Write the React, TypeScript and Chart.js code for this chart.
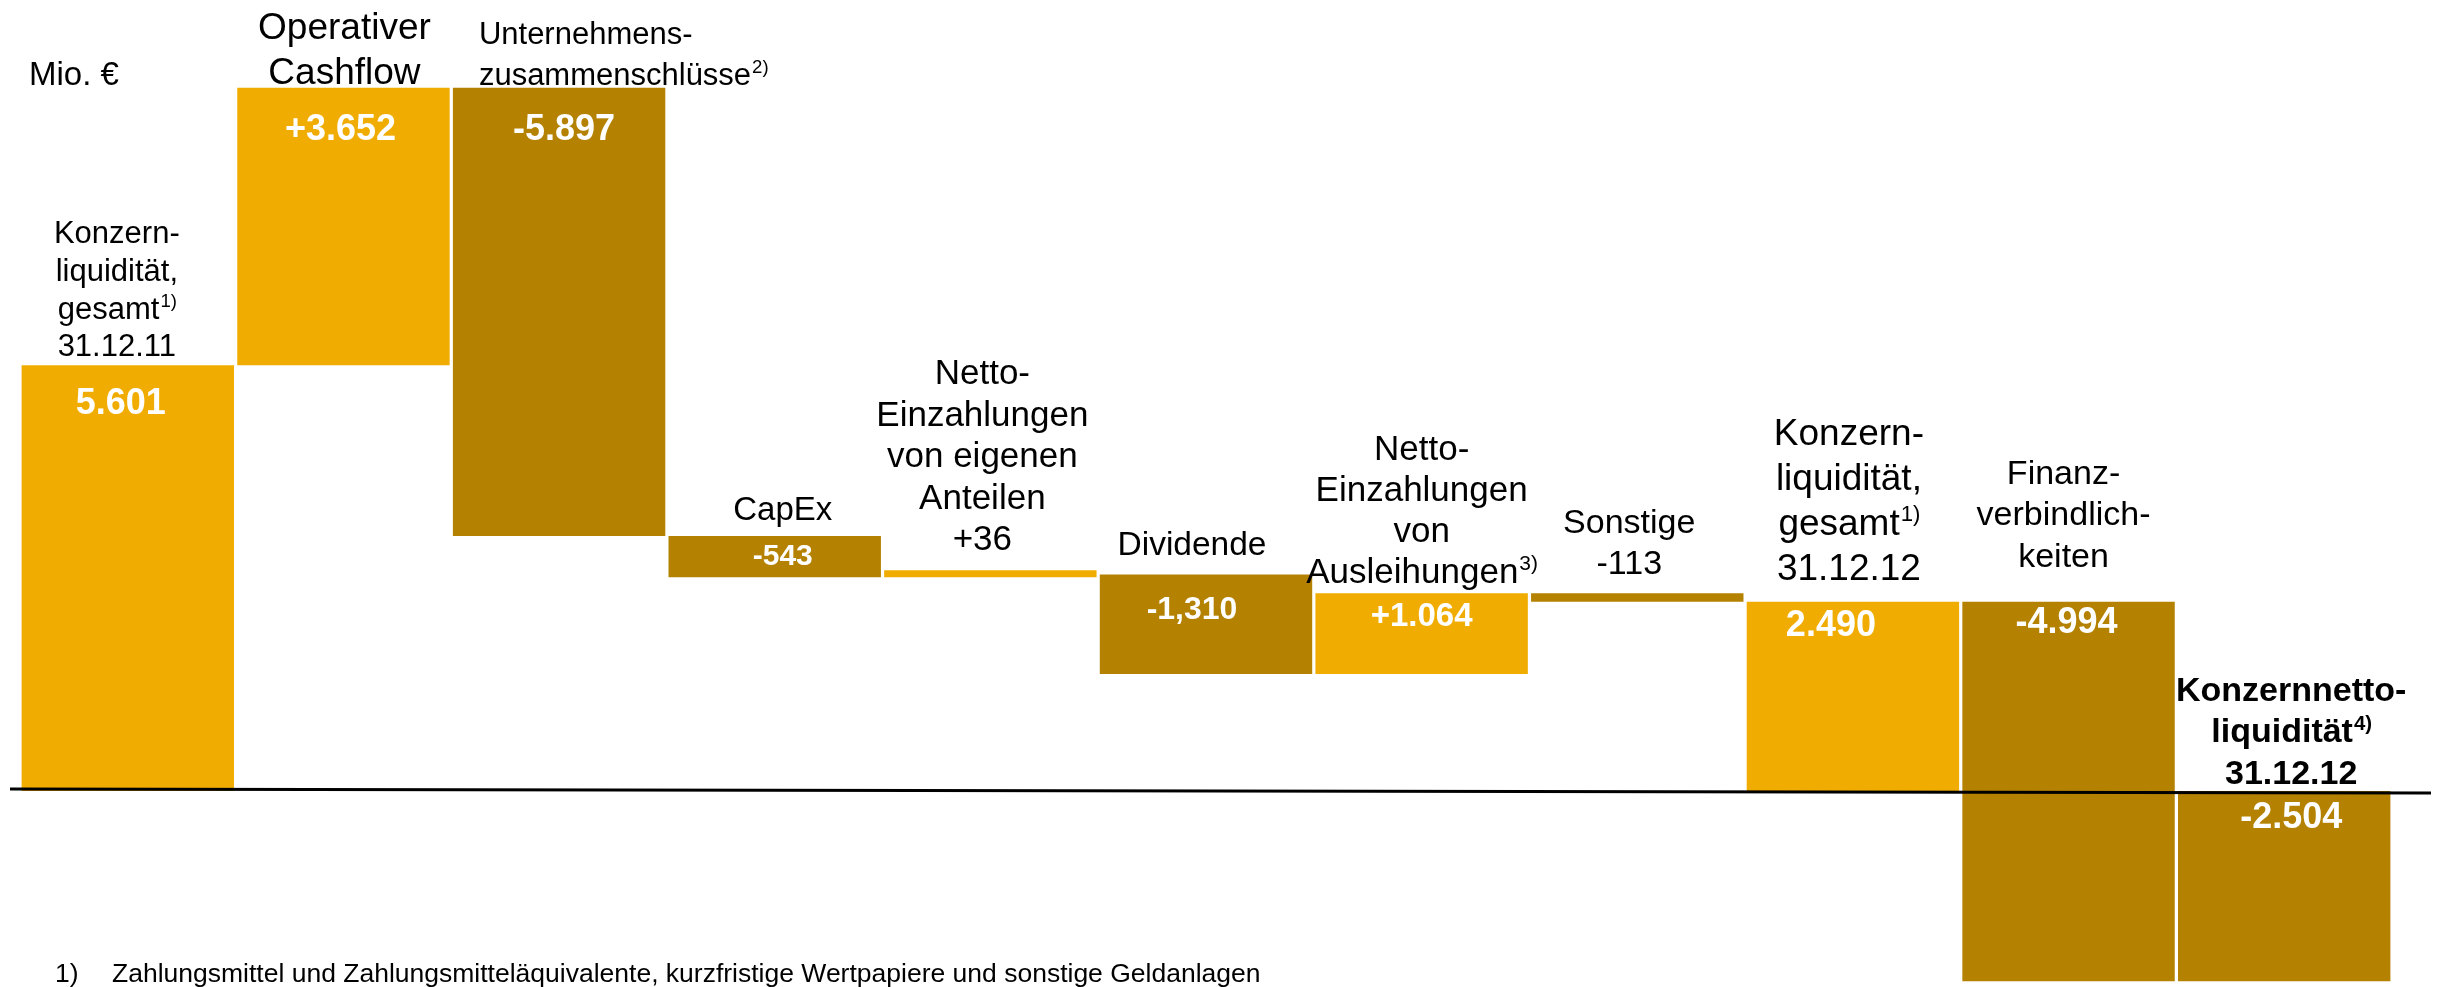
import React, { useEffect, useRef } from "react";
import { Chart, registerables } from "chart.js";

Chart.register(...registerables);

// ---------- data ----------
const categories = [
  "Konzernliquidität 31.12.11",
  "Operativer Cashflow",
  "Unternehmenszusammenschlüsse",
  "CapEx",
  "Netto-Einzahlungen von eigenen Anteilen",
  "Dividende",
  "Netto-Einzahlungen von Ausleihungen",
  "Sonstige",
  "Konzernliquidität 31.12.12",
  "Finanzverbindlichkeiten",
  "Konzernnettoliquidität 31.12.12",
];
const changes = [5601, 3652, -5897, -543, 36, -1310, 1064, -113, 2490, -4994, -2504];
const isTotal = [true, false, false, false, false, false, false, false, true, false, true];
const valueLabels = ["5.601", "+3.652", "-5.897", "-543", "", "-1,310", "+1.064", "", "2.490", "-4.994", "-2.504"];
const categoryLines = [
  ["Konzern-", "liquidität,", "gesamt^1)", "31.12.11"],
  ["Operativer", "Cashflow"],
  ["Unternehmens-", "zusammenschlüsse^2)"],
  ["CapEx"],
  ["Netto-", "Einzahlungen", "von eigenen", "Anteilen", "+36"],
  ["Dividende"],
  ["Netto-", "Einzahlungen", "von", "Ausleihungen^3)"],
  ["Sonstige", "-113"],
  ["Konzern-", "liquidität,", "gesamt^1)", "31.12.12"],
  ["Finanz-", "verbindlich-", "keiten"],
  ["Konzernnetto-", "liquidität^4)", "31.12.12"],
];
const unitLabel = "Mio. €";
const footnoteMark = "1)";
const footnoteText =
  "Zahlungsmittel und Zahlungsmitteläquivalente, kurzfristige Wertpapiere und sonstige Geldanlagen";

// ---------- styles ----------
const LIGHT = "#F0AC00";
const DARK = "#B48100";
const FONT = '"Liberation Sans", Arial, Helvetica, sans-serif';

type CatStyle = { size: number; lh: number; gap: number; dx: number; bold?: boolean; left?: number };
const catStyles: CatStyle[] = [
  { size: 31, lh: 37.7, gap: 9, dx: -11 },
  { size: 37, lh: 45, gap: 4, dx: 1 },
  { size: 31, lh: 41, gap: 3, dx: 0, left: 26 },
  { size: 33, lh: 40, gap: 16, dx: 8 },
  { size: 35, lh: 41.5, gap: 20, dx: -8 },
  { size: 33.5, lh: 40, gap: 19, dx: -14 },
  { size: 35, lh: 41, gap: 10, dx: 0 },
  { size: 34, lh: 41, gap: 19, dx: -8 },
  { size: 37, lh: 45, gap: 22, dx: -4 },
  { size: 34, lh: 41.5, gap: 35, dx: -5 },
  { size: 34, lh: 41.5, gap: 7, dx: 7, bold: true },
];
type ValStyle = { size: number; dx: number; dy: number | "mid" };
const valStyles: ValStyle[] = [
  { size: 36, dx: -7, dy: 39 },
  { size: 36, dx: -3, dy: 42 },
  { size: 36, dx: 5, dy: 42 },
  { size: 30, dx: 8, dy: "mid" },
  { size: 30, dx: 0, dy: 0 },
  { size: 32, dx: -14, dy: 36 },
  { size: 33, dx: 0, dy: 24 },
  { size: 30, dx: 0, dy: 0 },
  { size: 36, dx: -22, dy: 24 },
  { size: 36, dx: -2, dy: 21 },
  { size: 36, dx: 7, dy: 27 },
];

// ---------- helpers ----------
function buildRanges(): [number, number][] {
  let running = 0;
  return changes.map((v, i) => {
    if (isTotal[i]) {
      running = v;
      return [0, v] as [number, number];
    }
    const start = running;
    running = running + v;
    return [start, running] as [number, number];
  });
}

function drawRich(
  ctx: CanvasRenderingContext2D,
  text: string,
  x: number,
  y: number,
  size: number,
  bold: boolean,
  align: "center" | "left",
  color: string
) {
  const [base, sup] = text.split("^");
  const weight = bold ? "bold " : "";
  ctx.textBaseline = "alphabetic";
  ctx.textAlign = "left";
  ctx.fillStyle = color;
  ctx.font = `${weight}${size}px ${FONT}`;
  const w1 = ctx.measureText(base).width;
  let w2 = 0;
  const supSize = size * 0.6;
  if (sup) {
    ctx.font = `${weight}${supSize}px ${FONT}`;
    w2 = ctx.measureText(sup).width;
  }
  const sx = align === "center" ? x - (w1 + w2) / 2 : x;
  ctx.font = `${weight}${size}px ${FONT}`;
  ctx.fillText(base, sx, y);
  if (sup) {
    ctx.font = `${weight}${supSize}px ${FONT}`;
    ctx.fillText(sup, sx + w1 + 1, y - size * 0.38);
  }
}

const labelPlugin = {
  id: "waterfallLabels",
  afterDatasetsDraw(chart: any) {
    const ctx: CanvasRenderingContext2D = chart.ctx;
    const meta = chart.getDatasetMeta(0);
    const yScale = chart.scales.y;
    const y0 = yScale.getPixelForValue(0);
    ctx.save();

    // zero line (slightly tilted as in the original slide)
    ctx.strokeStyle = "#000";
    ctx.lineWidth = 3;
    ctx.beginPath();
    ctx.moveTo(10, y0 - 2);
    ctx.lineTo(2431, y0 + 2);
    ctx.stroke();

    meta.data.forEach((bar: any, i: number) => {
      const top = Math.min(bar.y, bar.base);
      const bottom = Math.max(bar.y, bar.base);
      const cx = bar.x;
      const left = bar.x - bar.width / 2;

      // category label above the bar
      const cs = catStyles[i];
      const lines = categoryLines[i];
      const lastBaseline = top - cs.gap;
      lines.forEach((ln, k) => {
        const yy = lastBaseline - (lines.length - 1 - k) * cs.lh;
        if (cs.left !== undefined) {
          drawRich(ctx, ln, left + cs.left, yy, cs.size, !!cs.bold, "left", "#000");
        } else {
          drawRich(ctx, ln, cx + cs.dx, yy, cs.size, !!cs.bold, "center", "#000");
        }
      });

      // value label inside the bar
      const txt = valueLabels[i];
      if (txt) {
        const vs = valStyles[i];
        const cy = vs.dy === "mid" ? (top + bottom) / 2 : top + (vs.dy as number);
        ctx.font = `bold ${vs.size}px ${FONT}`;
        ctx.fillStyle = "#fff";
        ctx.textAlign = "center";
        ctx.textBaseline = "middle";
        ctx.fillText(txt, cx + vs.dx, cy);
      }
    });

    // unit label
    ctx.fillStyle = "#000";
    ctx.textAlign = "left";
    ctx.textBaseline = "alphabetic";
    ctx.font = `33px ${FONT}`;
    ctx.fillText(unitLabel, 29, 85);

    // footnote
    ctx.font = `26.5px ${FONT}`;
    ctx.fillText(footnoteMark, 55, 982);
    ctx.fillText(footnoteText, 112, 982);

    ctx.restore();
  },
};

export default function App() {
  const canvasRef = useRef<HTMLCanvasElement | null>(null);

  useEffect(() => {
    if (!canvasRef.current) return;
    const ranges = buildRanges();
    const colors = changes.map((v) => (v >= 0 ? LIGHT : DARK));
    const chart = new Chart(canvasRef.current, {
      type: "bar",
      data: {
        labels: categories,
        datasets: [
          {
            data: ranges as any,
            backgroundColor: colors,
            borderWidth: 0,
            barPercentage: 0.985,
            categoryPercentage: 1,
            minBarLength: 7,
          },
        ],
      },
      options: {
        animation: false,
        responsive: true,
        maintainAspectRatio: false,
        layout: { padding: { left: 20, right: 47, top: 0, bottom: 0 } },
        plugins: {
          legend: { display: false },
          tooltip: { enabled: false },
        },
        scales: {
          x: { display: false, grid: { display: false } },
          y: { display: false, min: -2579, max: 10408, grid: { display: false } },
        },
      },
      plugins: [labelPlugin],
    });
    return () => chart.destroy();
  }, []);

  return (
    <div
      style={{
        position: "absolute",
        left: 0,
        top: 0,
        width: 2439,
        height: 987,
        background: "#fff",
        overflow: "hidden",
      }}
    >
      <canvas ref={canvasRef} />
    </div>
  );
}
